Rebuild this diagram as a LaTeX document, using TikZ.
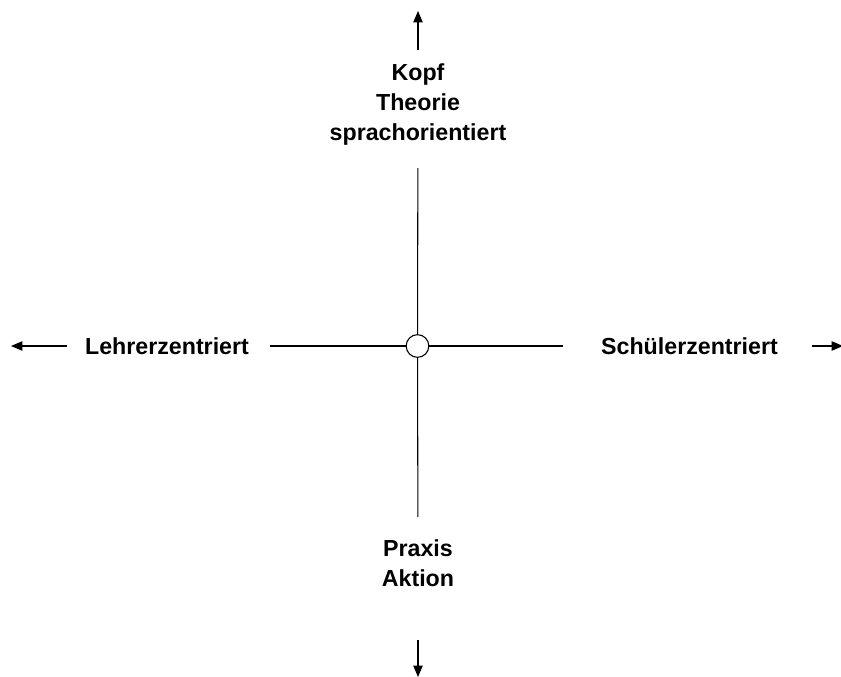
\documentclass[tikz,border=0pt]{standalone}
\usepackage{fontspec}
\setmainfont{Liberation Sans}
\usetikzlibrary{arrows.meta}

\tikzset{
  axislabel/.style={font=\fontsize{17.4}{22.5}\selectfont\bfseries,align=center,inner sep=0pt},
  hub/.style={circle,draw,line width=0.8pt,minimum size=17pt,inner sep=0pt},
  axisline/.style={line width=0.8pt},
  axisarrow/.style={line width=0.8pt,-{Triangle[length=8.5pt,width=7pt]}},
}

\begin{document}
\begin{tikzpicture}[x=0.75pt,y=-0.75pt]
  \useasboundingbox (0,0) rectangle (841,677);
  \node[hub] (hub) at (417.5,346) {};
  \node[axislabel,anchor=north] (kopf) at (418,63) {Kopf\\Theorie\\sprachorientiert};
  \node[axislabel,anchor=north] (praxis) at (418,539) {Praxis\\Aktion};
  \node[axislabel] (lehrer) at (167,346) {Lehrerzentriert};
  \node[axislabel] (schueler) at (689.5,346) {Schülerzentriert};
  % free ends of the four arrows
  \coordinate (tipN) at (418,11);
  \coordinate (tipS) at (418,677);
  \coordinate (tipW) at (11,346);
  \coordinate (tipE) at (843,346);
  % axis pieces between labels and hub
  \draw[axisline,shorten <=17.25pt] (kopf) -- (hub);
  \draw[axisline,shorten <=16.5pt] (praxis) -- (hub);
  \draw[axisline,shorten <=15.75pt] (lehrer) -- (hub);
  \draw[axisline,shorten <=28.5pt] (schueler) -- (hub);
  \draw[axisarrow,shorten <=9.75pt] (kopf) -- (tipN);
  \draw[axisarrow,shorten <=39.75pt] (praxis) -- (tipS);
  \draw[axisarrow,shorten <=13.5pt] (lehrer) -- (tipW);
  \draw[axisarrow,shorten <=25.5pt] (schueler) -- (tipE);
\end{tikzpicture}
\end{document}
